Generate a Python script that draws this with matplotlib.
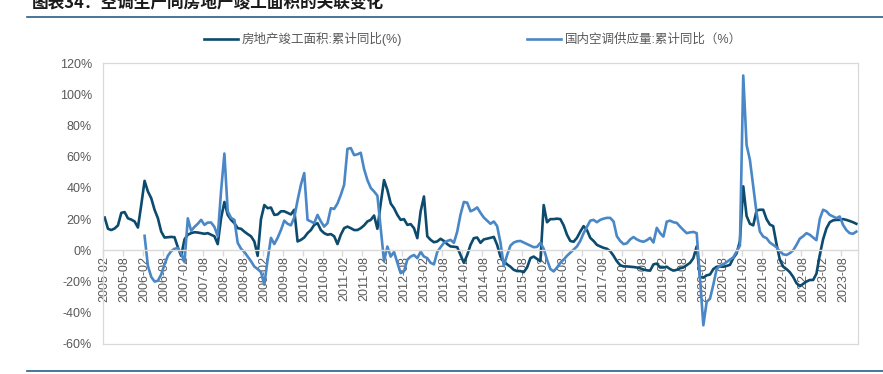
import numpy as np
import pandas as pd
import matplotlib
matplotlib.use("Agg")
import matplotlib.pyplot as plt
from matplotlib.lines import Line2D
from matplotlib.ticker import FixedLocator, FuncFormatter

plt.rcParams['font.family'] = ['Liberation Sans', 'Noto Sans CJK SC', 'DejaVu Sans']
plt.rcParams['axes.unicode_minus'] = False

# ---------------- data ----------------
months = pd.period_range('2005-02', '2023-12', freq='M')

series_names = ['房地产竣工面积:累计同比(%)', '国内空调供应量:累计同比（%）']

# 房地产竣工面积:累计同比 (%), 2005-02 .. 2023-12
completion_yoy = [
    21, 13.8, 13, 14, 16, 24, 24.5, 20.5, 19.7, 18.5, 14.6, 29,
    44.5, 37.7, 33.4, 26, 20.6, 12, 8.2, 8.4, 8.6, 8.4, 2, -3.5,
    7, 10, 11, 11.6, 11.4, 11, 10.6, 11, 10, 9, 4, 20.6,
    31, 22.7, 19.5, 17.4, 14.2, 13.8, 12, 10.4, 9, 5.7, -3.5, 20,
    29, 27, 27.4, 22.7, 23, 25, 25, 24, 23, 26, 5.7, 6.7,
    8.2, 11, 13, 16.3, 17.4, 13, 11, 10, 10.4, 9, 4, 10,
    14.2, 15.2, 14.2, 13, 13, 14.2, 16, 18.5, 19.5, 22.3, 13.8, 30,
    45, 38.7, 30, 27, 22.7, 19.5, 20, 16.3, 16.8, 14.2, 7.8, 25,
    34.5, 9, 6.7, 5.2, 5.7, 7.4, 6, 4, 2.5, 2.3, 2, -3,
    -8, -3, 3.5, 7.8, 8.2, 4.8, 7, 7.5, 8, 8.6, 3.5, -4,
    -7, -9, -10.5, -12.5, -13.3, -13.3, -14, -11, -5, -4, -5.5, -7,
    29, 18, 20, 20, 20.3, 20, 16, 10, 6, 5.5, 8, 12,
    15.5, 13, 8, 6, 3.5, 2.5, 1.6, 1, -0.5, -3.5, -7, -9.5,
    -10.3, -10.3, -10.5, -10.7, -11, -11.5, -12.3, -12.8, -13, -9, -8.5, -11,
    -11, -10.5, -12, -13, -12.5, -11.5, -11, -9.5, -8, -5, 2.5, -17,
    -17.5, -16, -15.5, -12, -10.5, -10.4, -10.5, -10, -9.3, -5, -2, 6,
    41, 22, 17, 16, 25.5, 26, 26, 20, 16.5, 15.5, 4, -6,
    -10.5, -12, -14, -17, -21, -23, -21.5, -20, -19, -19, -15, -3,
    7, 14, 18, 19.2, 19.5, 19.5, 20, 19.5, 18.8, 18, 17,
]

# 国内空调供应量:累计同比 (%), 2006-02 .. 2023-12
ac_start = '2006-02'
ac_supply_yoy = [
    9.3, -10, -17, -20, -19.5, -15.5, -9, -3.5, -0.5, 1, 1.4, -2,
    -7.5, 20.5, 12.5, 15, 17, 19.5, 16.3, 17.8, 17.8, 15, 9, 38,
    62, 25, 20.8, 19.5, 4.8, 1, -1, -4, -7, -10.4, -12, -14,
    -22, -6, 8, 4, 8, 13, 19, 17, 16, 21, 32, 42,
    49.5, 19.5, 18.5, 17.4, 22.7, 18.5, 15.2, 17.4, 27, 26.5, 30, 35.5,
    42, 65, 65.5, 61, 61.5, 62.5, 52, 45, 40, 37.7, 35, 14,
    -7, 2.4, -4, -1, -8, -14.6, -13.5, -6, -4, -3, -5, -1,
    -4, -5, -8, -9, -1, 2, 4.8, 6, 6.7, 4.8, 12, 23,
    31, 30.5, 25, 26, 27.5, 24, 21, 19, 17, 18.5, 15.5, 5,
    -10, -3, 3, 5, 5.8, 6, 5, 4, 3, 2, 2.2, 4.8,
    1, -6, -12, -13.5, -11, -8, -6, -3.5, -1.5, 0.5, 2.5, 6,
    11, 15, 19, 19.5, 18, 19.5, 20.3, 20.8, 20.8, 18.5, 9, 6,
    4, 4.5, 7, 8.5, 7, 6, 5.5, 6.5, 8, 5, 14.4, 11,
    8.8, 18.4, 19, 18, 17.6, 15.2, 13, 11, 11.5, 11.8, 11, -18,
    -48, -33, -31, -22, -12, -10, -9, -7.5, -6, -4.5, -0.7, 3,
    112, 67.5, 58, 41, 24, 12, 8.8, 7.8, 5, 3.5, 2, -0.7,
    -2.5, -3, -1.8, 0, 3.5, 7.5, 9, 11, 10, 8.2, 6.5, 20,
    26, 25, 22.7, 21.7, 20.6, 21.7, 16.3, 13, 11, 10.6, 12,
]

y_ticks = [-60, -40, -20, 0, 20, 40, 60, 80, 100, 120]

# ---------------- figure ----------------
n = len(months)
x = np.arange(n)
dark = np.array(completion_yoy, dtype=float)
offset = list(months.astype(str)).index(ac_start)
light = np.full(n, np.nan)
light[offset:offset + len(ac_supply_yoy)] = ac_supply_yoy

DARK = '#0c4a6e'
LIGHT = '#4a87c6'
GRID = '#d9d9d9'
TXT = '#595959'

fig = plt.figure(figsize=(8.83, 3.74), dpi=100)
W, H = 883, 374
ax = fig.add_axes([103 / W, 1 - 344 / H, (858 - 103) / W, (344 - 63) / H])

# spines first (changing spine position resets ticks)
for s in ['left', 'right', 'top']:
    ax.spines[s].set_color(GRID)
    ax.spines[s].set_linewidth(0.9)
ax.spines['bottom'].set_position(('data', 0))
ax.spines['bottom'].set_color(GRID)
ax.spines['bottom'].set_linewidth(1.0)

l1, = ax.plot(x, dark, color=DARK, lw=1.9, solid_joinstyle='round', label=series_names[0])
l2, = ax.plot(x, light, color=LIGHT, lw=1.9, solid_joinstyle='round', label=series_names[1])

ax.set_xlim(-0.5, n - 0.5)
ax.set_ylim(y_ticks[0], y_ticks[-1])
ax.axhline(y_ticks[0], color=GRID, lw=0.9, clip_on=False, zorder=0)

ax.set_yticks(y_ticks)
ax.yaxis.set_major_formatter(FuncFormatter(lambda v, p: f'{int(v)}%'))
ax.tick_params(axis='y', length=0, pad=8, labelsize=9, labelcolor=TXT)

lab_idx = [i for i, m in enumerate(months) if m.month in (2, 8)]
ax.set_xticks(lab_idx)
ax.set_xticklabels([months[i].strftime('%Y-%m') for i in lab_idx])
ax.xaxis.set_minor_locator(FixedLocator([i - 0.5 for i in lab_idx]))
ax.tick_params(axis='x', which='major', length=0, pad=4, labelsize=9,
               labelcolor=TXT, labelrotation=90)
ax.tick_params(axis='x', which='minor', length=4, color=GRID, width=1)

ax.legend(handles=[l1, l2], loc='center', bbox_to_anchor=(473 / W, 1 - 39 / H),
          bbox_transform=fig.transFigure, ncol=2, frameon=False, fontsize=9,
          handlelength=2.7, handletextpad=0.3, columnspacing=10.0, labelcolor=TXT)

fig.text(32 / W, 1 - 3 / H, '图表34：空调生产同房地产竣工面积的关联变化',
         fontsize=12, fontweight='bold', style='italic', va='center', ha='left',
         color='#1a1a1a', family=['Noto Sans CJK SC', 'DejaVu Sans'])

fig.add_artist(Line2D([27 / W, 1], [1 - 17 / H] * 2, color='#2b5d86', lw=1.2))
fig.add_artist(Line2D([27 / W, 1], [1 - 371 / H] * 2, color='#2b5d86', lw=1.2))

fig.savefig('out.png', dpi=100)
